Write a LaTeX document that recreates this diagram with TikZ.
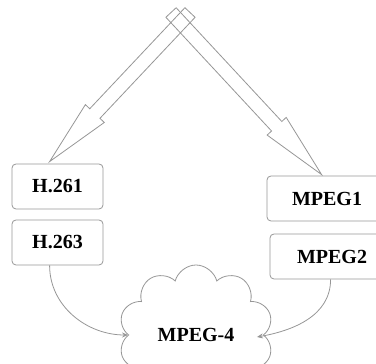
\documentclass[tikz,border=0pt]{standalone}
\usepackage{fontspec}
\setmainfont{Liberation Serif}
\usetikzlibrary{calc,shapes.symbols,arrows.meta}

\definecolor{trait}{RGB}{150,150,150}

\tikzset{
  boite/.style={draw=trait, line width=0.8pt, rounded corners=4pt,
    minimum height=45pt, font=\fontsize{20}{24}\selectfont\bfseries},
  nuage/.style={cloud, draw=trait, line width=0.8pt, cloud puffs=10,
    font=\fontsize{20}{24}\selectfont\bfseries},
  grossefleche/.style={draw=trait, line width=0.8pt},
  lien/.style={draw=trait, line width=0.8pt, -{Stealth[length=6pt,width=5pt]}}
}

% grosse fleche creuse : #1 = queue, #2 = pointe
\newcommand{\flechecreuse}[2]{%
  \coordinate (col) at ($(#2)!66pt!(#1)$);
  \draw[grossefleche] ($(#1)!7pt!90:(#2)$) -- ($(col)!7pt!90:(#2)$)
    -- ($(col)!13pt!90:(#2)$) -- (#2) -- ($(col)!13pt!-90:(#2)$)
    -- ($(col)!7pt!-90:(#2)$) -- ($(#1)!7pt!-90:(#2)$) -- cycle;
}

\begin{document}
\begin{tikzpicture}[x=1pt,y=1pt]

\useasboundingbox (0,0) rectangle (376,364);
\clip (0,0) rectangle (376,364);

% Boites
\node[boite, minimum width=91pt] (h261) at (57.5,177.5) {H.261};
\node[boite, minimum width=91pt] (h263) at (57.5,121.5) {H.263};
\node[boite, minimum width=120pt] (mpeg1) at (327,165.5) {MPEG1};
\node[boite, minimum width=124pt] (mpeg2) at (332,107.5) {MPEG2};

% Nuage
\node[nuage, minimum width=155pt, minimum height=92pt] (mpeg4) at (196,29) {MPEG-4};

% Grosses fleches
\coordinate (queueG) at (190,351.5);
\coordinate (queueD) at (171,351.5);
\coordinate (pointeG) at ($(h261.north west)+(38,2)$);
\coordinate (pointeD) at ($(mpeg1.north west)+(55,1)$);

\flechecreuse{queueG}{pointeG}
\flechecreuse{queueD}{pointeD}

% Liens vers le nuage
\draw[lien] ($(h263.south west)+(38,0)$) to[out=-90,in=180] (mpeg4.west);
\draw[lien] ($(mpeg2.south west)+(61,0)$) to[out=-90,in=10] ($(mpeg4.east)+(-7,-2)$);

\end{tikzpicture}
\end{document}
